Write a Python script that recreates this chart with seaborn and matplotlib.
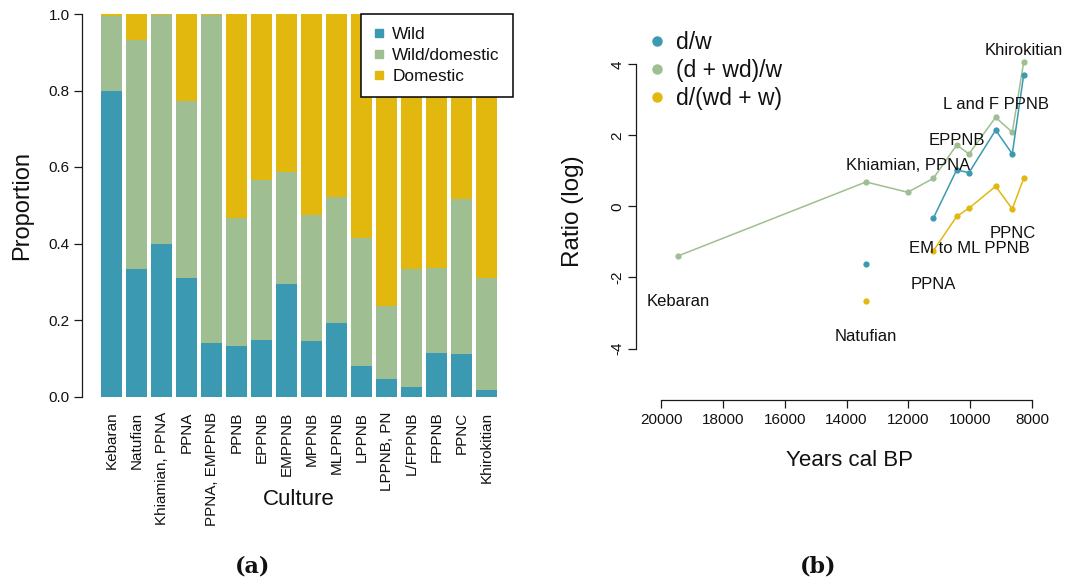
import numpy as np
import pandas as pd
import matplotlib
matplotlib.use("Agg")
import matplotlib.pyplot as plt
import seaborn as sns
from matplotlib.lines import Line2D

# ---------------- data ----------------
cultures = ["Kebaran", "Natufian", "Khiamian, PPNA", "PPNA", "PPNA, EMPPNB", "PPNB",
            "EPPNB", "EMPPNB", "MPPNB", "MLPPNB", "LPPNB", "LPPNB, PN", "L/FPPNB",
            "FPPNB", "PPNC", "Khirokitian"]
wild = [0.800, 0.333, 0.398, 0.309, 0.141, 0.132, 0.147, 0.293, 0.144, 0.191,
        0.079, 0.047, 0.026, 0.115, 0.110, 0.016]
wild_domestic = [0.195, 0.599, 0.599, 0.463, 0.856, 0.334, 0.418, 0.293, 0.330, 0.330,
                 0.335, 0.189, 0.307, 0.220, 0.406, 0.293]
domestic = [0.005, 0.068, 0.003, 0.228, 0.003, 0.534, 0.435, 0.414, 0.526, 0.479,
            0.586, 0.764, 0.667, 0.665, 0.484, 0.691]
bar_series = ["Wild", "Wild/domestic", "Domestic"]

years = [19440, 13370, 12022, 11192, 10437, 10039, 9176, 8638, 8270]
ratio_d_w = [np.nan, -1.63, np.nan, -0.33, 1.03, 0.95, 2.15, 1.48, 3.70]
ratio_dwd_w = [-1.39, 0.69, 0.40, 0.79, 1.73, 1.48, 2.51, 2.09, 4.06]
ratio_d_wdw = [np.nan, -2.67, np.nan, -1.25, -0.28, -0.05, 0.57, -0.07, 0.79]
ratio_series = ["d/w", "(d + wd)/w", "d/(wd + w)"]
period_labels = ["Kebaran", "Natufian", "Khiamian, PPNA", "PPNA", "EPPNB",
                 "EM to ML PPNB", "L and F PPNB", "PPNC", "Khirokitian"]
period_label_y = [-2.69, -3.67, 1.15, -2.19, 1.85, -1.18, 2.86, -0.75, 4.38]

BLUE = "#3B9AB2"
GREEN = "#9FBE92"
YELLOW = "#E2B80F"

# ---------------- style ----------------
sns.set_style("ticks")
plt.rcParams["font.family"] = ["Liberation Sans", "DejaVu Sans"]
plt.rcParams["axes.unicode_minus"] = False
plt.rcParams["text.color"] = "#111111"
plt.rcParams["axes.labelcolor"] = "#111111"
plt.rcParams["axes.edgecolor"] = "#1a1a1a"
plt.rcParams["xtick.color"] = "#1a1a1a"
plt.rcParams["ytick.color"] = "#1a1a1a"
plt.rcParams["xtick.labelcolor"] = "#111111"
plt.rcParams["ytick.labelcolor"] = "#111111"

W, H = 1066, 586
fig = plt.figure(figsize=(W / 100, H / 100), dpi=100)


def rect(l, t, r, b):
    return [l / W, 1 - b / H, (r - l) / W, (b - t) / H]


ax1 = fig.add_axes(rect(94, 14, 504, 396.5))
ax2 = fig.add_axes(rect(636, 14, 1047, 400))

# ---------------- (a) stacked bars ----------------
df = pd.DataFrame({"Culture": cultures, "wild": wild, "wd": wild_domestic, "dom": domestic})
df["top_all"] = df["wild"] + df["wd"] + df["dom"]
df["top_wd"] = df["wild"] + df["wd"]
for col, c in [("top_all", YELLOW), ("top_wd", GREEN), ("wild", BLUE)]:
    sns.barplot(data=df, x="Culture", y=col, color=c, saturation=1, width=0.84,
                errorbar=None, ax=ax1, linewidth=0, order=cultures)

ax1.set_xlim(-0.7, 15.7)
ax1.set_ylim(0, 1)
for s in ["top", "right", "bottom"]:
    ax1.spines[s].set_visible(False)
ax1.spines["left"].set_position(("outward", 9))
ax1.spines["left"].set_bounds(0, 1)
ax1.spines["left"].set_linewidth(0.9)
ax1.set_yticks(np.arange(0, 1.01, 0.2))
ax1.set_yticklabels([f"{v:.1f}" for v in np.arange(0, 1.01, 0.2)])
ax1.tick_params(axis="y", length=5.5, width=0.9, labelsize=11, pad=3)
ax1.tick_params(axis="x", length=0, labelsize=11, pad=11, labelrotation=90)
ax1.set_xlabel("Culture", fontsize=16)
ax1.xaxis.set_label_coords(0.5, -0.27)
ax1.xaxis.label.set_va("center")
ax1.set_ylabel("Proportion", fontsize=17)
ax1.yaxis.set_label_coords(-0.176, 0.5)
ax1.yaxis.label.set_va("center")

h1 = [Line2D([], [], marker="s", linestyle="none", markersize=6, color=c)
      for c in [BLUE, GREEN, YELLOW]]
leg1 = ax1.legend(h1, bar_series, loc="upper right",
                  bbox_to_anchor=(512.7 / W, 1 - 14 / H), bbox_transform=fig.transFigure,
                  fontsize=12.4, frameon=True, fancybox=False, framealpha=1,
                  edgecolor="black", borderpad=0.75, handlelength=0.55, handletextpad=0.5,
                  labelspacing=0.36, borderaxespad=0)
leg1.get_frame().set_linewidth(1.1)

# ---------------- (b) log ratios ----------------
for name, vals, c in [(ratio_series[1], ratio_dwd_w, GREEN),
                      (ratio_series[0], ratio_d_w, BLUE),
                      (ratio_series[2], ratio_d_wdw, YELLOW)]:
    d = pd.DataFrame({"year": years, "val": vals})
    d["seg"] = d["val"].isna().cumsum()
    d = d.dropna()
    sns.lineplot(data=d, x="year", y="val", units="seg", estimator=None, color=c,
                 marker="o", markersize=4.5, markeredgewidth=0, linewidth=1.1,
                 ax=ax2, sort=False, legend=False)

for yr, lab, ly in zip(years, period_labels, period_label_y):
    ax2.text(yr, ly, lab, ha="center", va="center", fontsize=12)

ax2.set_xlim(20809, 7515)
ax2.set_ylim(-5.45, 5.42)
for s in ["top", "right"]:
    ax2.spines[s].set_visible(False)
ax2.spines["left"].set_bounds(-4, 4)
ax2.spines["bottom"].set_bounds(8000, 20000)
ax2.spines["left"].set_linewidth(0.9)
ax2.spines["bottom"].set_linewidth(0.9)
ax2.set_xticks(np.arange(20000, 7999, -2000))
ax2.set_yticks(np.arange(-4, 5, 2))
ax2.tick_params(axis="both", length=5.5, width=0.9, labelsize=11)
ax2.tick_params(axis="x", pad=4)
ax2.tick_params(axis="y", pad=3)
for t in ax2.get_yticklabels():
    t.set_rotation(90)
    t.set_va("center")
ax2.set_xlabel("Years cal BP", fontsize=16)
ax2.xaxis.set_label_coords((849 - 636) / 411, -(460 - 400) / 386)
ax2.xaxis.label.set_va("center")
ax2.set_ylabel("Ratio (log)", fontsize=17.5)
ax2.yaxis.set_label_coords((573 - 636) / 411, 0.49)
ax2.yaxis.label.set_va("center")

h2 = [Line2D([], [], marker="o", linestyle="none", markersize=6.5, color=c)
      for c in [BLUE, GREEN, YELLOW]]
ax2.legend(h2, ratio_series, loc="upper left",
           bbox_to_anchor=(650 / W, 1 - 31 / H), bbox_transform=fig.transFigure,
           fontsize=16.5, frameon=False, borderpad=0, handlelength=0.6,
           handletextpad=0.55, labelspacing=0.22, borderaxespad=0)

# ---------------- captions ----------------
fig.text(253 / W, 1 - 567 / H, "(a)", fontsize=16, fontweight="bold",
         family="DejaVu Serif", ha="center", va="center")
fig.text(818 / W, 1 - 567 / H, "(b)", fontsize=16, fontweight="bold",
         family="DejaVu Serif", ha="center", va="center")

fig.savefig("out.png", dpi=100)
